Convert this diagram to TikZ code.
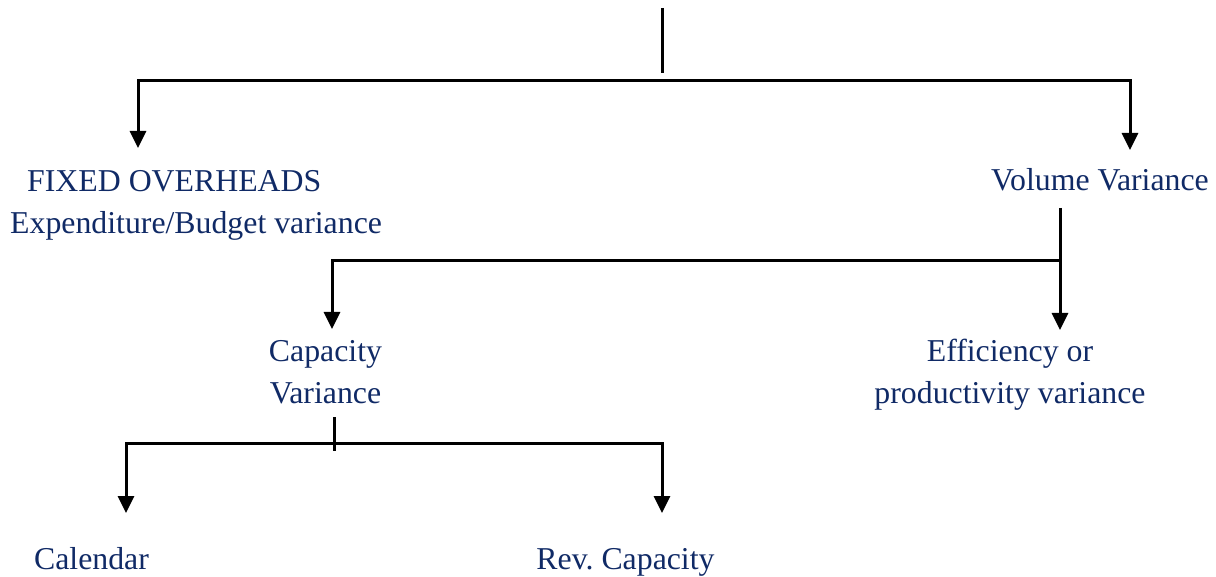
\documentclass[tikz,border=0pt]{standalone}
\usepackage{fontspec}
\setmainfont{Liberation Serif}
\usetikzlibrary{arrows.meta}
\definecolor{navy}{RGB}{16,42,102}
\begin{document}
\begin{tikzpicture}[x=1pt,y=-1pt,
  lbl/.style={text=navy,inner sep=0pt,anchor=base,align=center,
    font=\fontsize{31.8}{42}\selectfont},
  wire/.style={line width=3pt,line join=miter},
  tip/.style={wire,{Triangle[width=16pt,length=17pt]}-{Triangle[width=16pt,length=17pt]}},
  onetip/.style={wire,-{Triangle[width=16pt,length=17pt]}}]
\useasboundingbox (0,0) rectangle (1216,577);

% labels (multi-line nodes sit on the baseline of their last line)
\node[lbl,align=left,anchor=base west] (fixed) at (10,234)
  {\hspace*{17pt}FIXED OVERHEADS\\Expenditure/Budget variance};
\node[lbl] (volume) at (1100,191) {Volume Variance};
\node[lbl] (capacity) at (325.5,403) {Capacity\\Variance};
\node[lbl] (efficiency) at (1010,403.5) {Efficiency or\\productivity variance};
\node[lbl] (calendar) at (91.5,569) {Calendar};
\node[lbl] (revcap) at (625.5,569) {Rev.\ Capacity};

% connection points
\coordinate (root) at (662,8);
\coordinate (rootEnd) at (662,73);
\coordinate (fixedIn) at (138,148);
\coordinate (volIn) at (1130,150);
\coordinate (volOut) at (1060,208);
\coordinate (effIn) at (1060,330);
\coordinate (volBar) at (1060,261);
\coordinate (capIn) at (332,329);
\coordinate (capOut) at (334,417);
\coordinate (capOutEnd) at (334,451);
\coordinate (calIn) at (126,513);
\coordinate (revIn) at (662,513);

% top level
\draw[wire] (root) -- (rootEnd);
\draw[tip] (fixedIn) |- (volIn |- 0,81) -- (volIn);

% volume variance split
\draw[onetip] (volOut) -- (effIn);
\draw[onetip] (volBar) -| (capIn);

% capacity variance split
\draw[wire] (capOut) -- (capOutEnd);
\draw[tip] (calIn) |- (revIn |- 0,443) -- (revIn);
\end{tikzpicture}
\end{document}
